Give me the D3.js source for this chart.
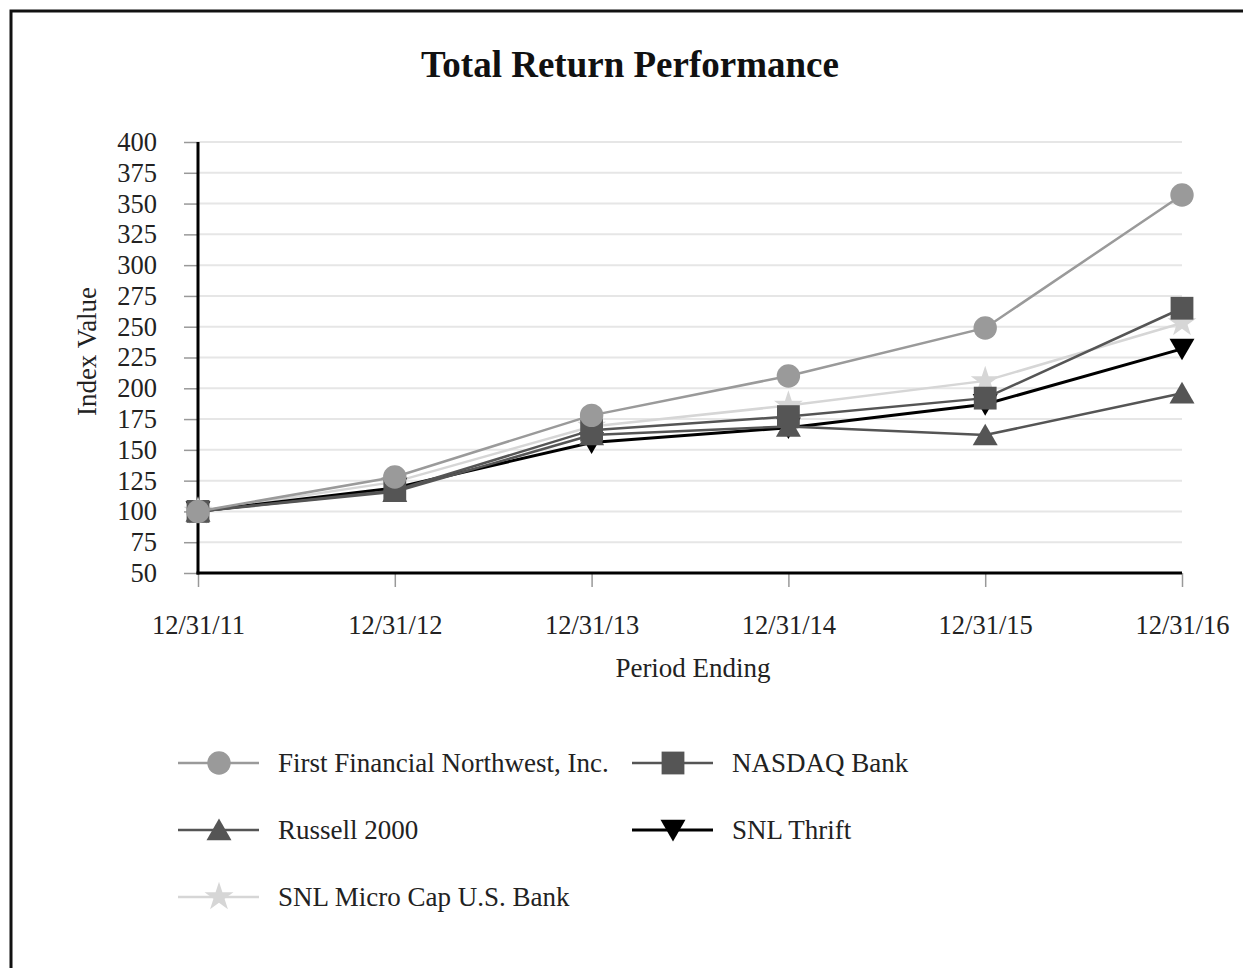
<!DOCTYPE html>
<html>
<head>
<meta charset="utf-8">
<script src="https://cdn.jsdelivr.net/npm/d3@7"></script>
<style>
	body { margin: 0; background: #fff; }
	svg { display: block; font-family: "Liberation Serif", "Times New Roman", serif; }
	.axis text { font-size: 26.5px; fill: #222; font-family: "Liberation Serif", "Times New Roman", serif; }
	.grid line { stroke: #e6e6e6; stroke-width: 2; }
</style>
</head>
<body>
<svg id="graphic" width="1243" height="968"></svg>
<script>
// data
const periods = ['12/31/11', '12/31/12', '12/31/13', '12/31/14', '12/31/15', '12/31/16'];
const ffnw = [100, 128, 178, 210, 249, 357];
const nasdaqBank = [100, 117, 166, 177, 192, 265];
const russell2000 = [100, 116, 162, 169, 162, 196];
const snlThrift = [100, 119, 156, 168, 187, 232];
const snlMicroCap = [100, 124, 169, 186, 206, 253];
const yTicks = [50, 75, 100, 125, 150, 175, 200, 225, 250, 275, 300, 325, 350, 375, 400];

const seriesList = [
	{ name: 'First Financial Northwest, Inc.', values: ffnw, colour: '#9a9a9a', symbol: 'circle', width: 2.5 },
	{ name: 'NASDAQ Bank', values: nasdaqBank, colour: '#555555', symbol: 'square', width: 2.5 },
	{ name: 'Russell 2000', values: russell2000, colour: '#555555', symbol: 'triangle', width: 2.5 },
	{ name: 'SNL Thrift', values: snlThrift, colour: '#000000', symbol: 'down', width: 3 },
	{ name: 'SNL Micro Cap U.S. Bank', values: snlMicroCap, colour: '#d6d6d6', symbol: 'star', width: 2.5 }
];

const svg = d3.select('#graphic');
const margin = { left: 198, right: 61, top: 142, bottom: 395 };
const width = 1243 - margin.left - margin.right;
const height = 968 - margin.top - margin.bottom;

// outer frame (only top and left edges fall inside the picture)
svg.append('path')
	.attr('d', 'M11,968 V11 H1243')
	.attr('fill', 'none')
	.attr('stroke', '#111')
	.attr('stroke-width', 3);

svg.append('text')
	.attr('x', 630)
	.attr('y', 77)
	.attr('text-anchor', 'middle')
	.style('font-size', '37px')
	.style('font-weight', 'bold')
	.attr('fill', '#111')
	.text('Total Return Performance');

const x = d3.scalePoint().domain(periods).range([0, width]);
const y = d3.scaleLinear().domain([50, 400]).range([height, 0]);

const g = svg.append('g').attr('transform', 'translate(' + margin.left + ',' + margin.top + ')');

g.append('g')
	.attr('class', 'grid')
	.selectAll('line')
	.data(yTicks.slice(1))
	.join('line')
	.attr('x1', 0)
	.attr('x2', width)
	.attr('y1', (d) => y(d))
	.attr('y2', (d) => y(d));

const yAxis = g.append('g')
	.attr('class', 'y axis')
	.call(d3.axisLeft(y).tickValues(yTicks).tickSize(14).tickPadding(27).tickFormat(d3.format('d')));

const xAxis = g.append('g')
	.attr('class', 'x axis')
	.attr('transform', 'translate(0,' + height + ')')
	.call(d3.axisBottom(x).tickSize(14).tickPadding(28));

[yAxis, xAxis].forEach((a) => {
	a.attr('font-family', null).attr('font-size', null);
	a.select('.domain').remove();
	a.selectAll('.tick line').attr('stroke', '#999').attr('stroke-width', 1.5);
});

g.append('line').attr('x1', 0).attr('x2', 0).attr('y1', 0).attr('y2', height + 1.5)
	.attr('stroke', '#000').attr('stroke-width', 3);
g.append('line').attr('x1', -1.5).attr('x2', width).attr('y1', height).attr('y2', height)
	.attr('stroke', '#000').attr('stroke-width', 3);

g.append('text')
	.attr('transform', 'translate(-102,' + (height / 2 - 6) + ') rotate(-90)')
	.attr('text-anchor', 'middle')
	.style('font-size', '27px')
	.attr('fill', '#222')
	.text('Index Value');

g.append('text')
	.attr('x', 495)
	.attr('y', height + 104)
	.attr('text-anchor', 'middle')
	.style('font-size', '27px')
	.attr('fill', '#222')
	.text('Period Ending');

const symbolTypes = {
	circle: d3.symbolCircle,
	square: d3.symbolSquare,
	triangle: d3.symbolTriangle,
	down: d3.symbolTriangle,
	star: d3.symbolStar
};
const symbolSizes = { circle: 430, square: 520, triangle: 270, down: 270, star: 260 };

function marker(sel, s) {
	sel.append('path')
		.attr('d', d3.symbol().type(symbolTypes[s.symbol]).size(symbolSizes[s.symbol])())
		.attr('transform', s.symbol === 'down' ? 'rotate(180)' : null)
		.attr('fill', s.colour);
}

const line = d3.line()
	.x((d, i) => x(periods[i]))
	.y((d) => y(d));

// draw bottom-most series first so circles sit on top
seriesList.slice().reverse().forEach((s) => {
	const sg = g.append('g');
	sg.append('path')
		.datum(s.values)
		.attr('d', line)
		.attr('fill', 'none')
		.attr('stroke', s.colour)
		.attr('stroke-width', s.width);
	sg.selectAll('g.pt')
		.data(s.values)
		.join('g')
		.attr('class', 'pt')
		.attr('transform', (d, i) => 'translate(' + x(periods[i]) + ',' + (y(d) + (s.symbol === 'triangle' ? 3 : s.symbol === 'down' ? -3 : 0)) + ')')
		.each(function () { marker(d3.select(this), s); });
});

// legend
const legendPos = [[178, 763], [632, 763], [178, 830], [632, 830], [178, 897]];
const legend = svg.append('g');
seriesList.forEach((s, i) => {
	const item = legend.append('g').attr('transform', 'translate(' + legendPos[i][0] + ',' + legendPos[i][1] + ')');
	item.append('line').attr('x1', 0).attr('x2', 81).attr('y1', 0).attr('y2', 0)
		.attr('stroke', s.colour).attr('stroke-width', s.width);
	const m = item.append('g').attr('transform', 'translate(41,' + (s.symbol === 'triangle' ? 3 : s.symbol === 'down' ? -3 : 0) + ')');
	marker(m, s);
	item.append('text')
		.attr('x', 100)
		.attr('y', 9)
		.style('font-size', '27px')
		.attr('fill', '#222')
		.text(s.name);
});
</script>
</body>
</html>
